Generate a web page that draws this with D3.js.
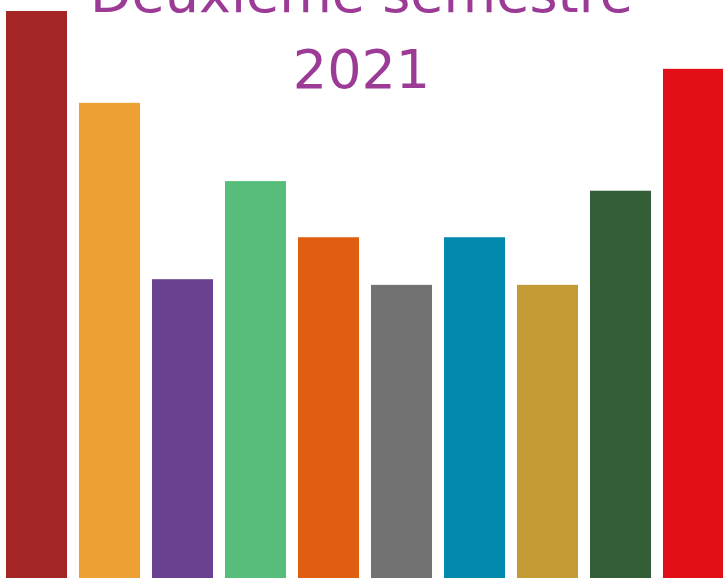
<!DOCTYPE html>
<html>
<head>
<meta charset="utf-8">
<script src="https://cdn.jsdelivr.net/npm/d3@7"></script>
<style>
  html, body { margin: 0; padding: 0; background: #fff; overflow: hidden; }
  svg { display: block; }
</style>
</head>
<body>
<svg id="chart" width="723" height="578"></svg>
<script>
const categories = ["C1", "C2", "C3", "C4", "C5", "C6", "C7", "C8", "C9", "C10"];
const values = [100, 83.8, 52.7, 70, 60.1, 51.7, 60.1, 51.7, 68.3, 89.8];
const colors = ["#a32525", "#eda135", "#6a4190", "#56bd7b", "#e05e10", "#727272", "#0388ae", "#c49a34", "#345e37", "#e20f18"];
const titleLines = ["Deuxième semestre", "2021"];

const W = 723, H = 578;
const svg = d3.select("#chart");

const x = d3.scaleBand()
  .domain(categories)
  .range([0, 730])
  .paddingInner(0.164)
  .paddingOuter(0.082);

const y = d3.scaleLinear()
  .domain([0, 100])
  .range([H, 11]);

svg.append("g")
  .selectAll("rect")
  .data(categories)
  .join("rect")
  .attr("x", d => x(d))
  .attr("width", x.bandwidth())
  .attr("y", (d, i) => y(values[i]))
  .attr("height", (d, i) => y(0) - y(values[i]))
  .attr("fill", (d, i) => colors[i]);

svg.append("text")
  .attr("x", W / 2)
  .attr("y", 12)
  .attr("text-anchor", "middle")
  .attr("font-family", "DejaVu Sans, sans-serif")
  .attr("font-size", 54)
  .attr("fill", "#9c3b96")
  .selectAll("tspan")
  .data(titleLines)
  .join("tspan")
  .attr("x", W / 2)
  .attr("dy", (d, i) => i === 0 ? 0 : 76)
  .text(d => d);
</script>
</body>
</html>
